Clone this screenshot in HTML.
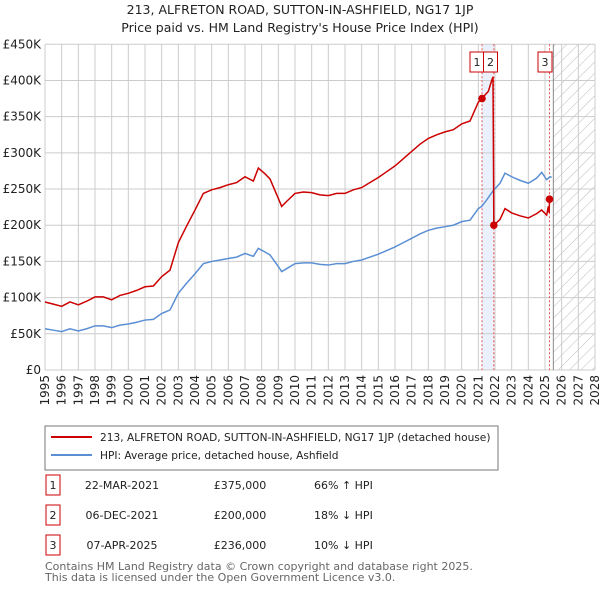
<!DOCTYPE html>
<html><head><meta charset="utf-8"><style>
body{margin:0;background:#fff;font-family:"Liberation Sans","DejaVu Sans",sans-serif;}
#wrap{position:relative;width:600px;height:590px;overflow:hidden;}
</style></head><body>
<div id="wrap">
<svg id="chart" width="600" height="590" xmlns="http://www.w3.org/2000/svg" font-family="DejaVu Sans, Liberation Sans, sans-serif">
<text x="300" y="14" text-anchor="middle" font-size="12.5" fill="#222">213, ALFRETON ROAD, SUTTON-IN-ASHFIELD, NG17 1JP</text>
<text x="300" y="32" text-anchor="middle" font-size="12.5" fill="#222">Price paid vs. HM Land Registry's House Price Index (HPI)</text>
<g id="grid"></g><g id="marks"></g><g id="axes"></g>
<rect x="45" y="426" width="453" height="44" fill="#fff" stroke="#777"/>
<line x1="51" y1="437" x2="92" y2="437" stroke="#cc0000" stroke-width="2"/>
<text x="100" y="441" font-size="10.6" fill="#222">213, ALFRETON ROAD, SUTTON-IN-ASHFIELD, NG17 1JP (detached house)</text>
<line x1="51" y1="455" x2="92" y2="455" stroke="#5b8fd4" stroke-width="2"/>
<text x="100" y="459" font-size="10.6" fill="#222">HPI: Average price, detached house, Ashfield</text>
<g id="table" font-size="11" fill="#222"></g>
<text x="45" y="570" font-size="11" fill="#666">Contains HM Land Registry data © Crown copyright and database right 2025.</text>
<text x="45" y="581" font-size="11" fill="#666">This data is licensed under the Open Government Licence v3.0.</text>
</svg>
</div>
<script>
const yTicks=[0,50,100,150,200,250,300,350,400,450];
const yTickLabels=["£0","£50K","£100K","£150K","£200K","£250K","£300K","£350K","£400K","£450K"];
const xYears=[1995,1996,1997,1998,1999,2000,2001,2002,2003,2004,2005,2006,2007,2008,2009,2010,2011,2012,2013,2014,2015,2016,2017,2018,2019,2020,2021,2022,2023,2024,2025,2026,2027,2028];
const hpiDates=[1995,1995.5,1996,1996.5,1997,1997.5,1998,1998.5,1999,1999.5,2000,2000.5,2001,2001.5,2002,2002.5,2003,2003.5,2004,2004.5,2005,2005.5,2006,2006.5,2007,2007.5,2007.8,2008.2,2008.5,2009,2009.2,2009.5,2010,2010.5,2011,2011.5,2012,2012.5,2013,2013.5,2014,2014.5,2015,2015.5,2016,2016.5,2017,2017.5,2018,2018.5,2019,2019.5,2020,2020.5,2021,2021.2,2021.5,2021.9,2022.3,2022.6,2023,2023.5,2024,2024.5,2024.8,2025.1,2025.3,2025.4];
const hpiValues=[57,55,53,57,54,57,61,61,58.5,62,63.6,66,69,70,78,83,106,120,133,147,150,152,154,156,161,157,168,163,159,143,136,140,147,148,148,146,145,147,147,150,152,156,160,165,170,176,182,188,193,196,198,200,205,207,223,226,235,248,258,272,267,262,258,265,273,263,267,266];
const priceDates=[1995,1995.5,1996,1996.5,1997,1997.5,1998,1998.5,1999,1999.5,2000,2000.5,2001,2001.5,2002,2002.5,2003,2003.5,2004,2004.5,2005,2005.5,2006,2006.5,2007,2007.5,2007.8,2008.2,2008.5,2009,2009.2,2009.5,2010,2010.5,2011,2011.5,2012,2012.5,2013,2013.5,2014,2014.5,2015,2015.5,2016,2016.5,2017,2017.5,2018,2018.5,2019,2019.5,2020,2020.5,2021,2021.22,2021.4,2021.6,2021.8,2021.88,2021.93,2022.3,2022.6,2023,2023.5,2024,2024.5,2024.8,2025.1,2025.2,2025.25,2025.27];
const priceValues=[94,91,88,94,90,95,101,101,97,103,106,110,115,116,129,138,176,199,221,244,249,252,256,259,267,261,279,271,264,237,226,233,244,246,245,242,241,244,244,249,252,259,266,274,282,292,302,312,320,325,329,332,340,344,370,375,380,385,400,405,200,208,223,217,213,210,216,221,214,226,217,236];
const saleDates=[2021.22,2021.93,2025.27];
const salePrices=[375,200,236];
const saleLabels=["1","2","3"];
const tableDates=["22-MAR-2021","06-DEC-2021","07-APR-2025"];
const tablePrices=["£375,000","£200,000","£236,000"];
const tableHpi=["66% ↑ HPI","18% ↓ HPI","10% ↓ HPI"];
const dataEnd=2025.5;

const X0=45,X1=595,Y0=370,Y1=44.3;
const xs=t=>X0+(t-1995)/(2028-1995)*(X1-X0);
const ys=v=>Y0-v/450*(Y0-Y1);
const NS="http://www.w3.org/2000/svg";
function mk(tag,parent,attrs){const e=document.createElementNS(NS,tag);for(const k in attrs)e.setAttribute(k,attrs[k]);document.getElementById(parent).appendChild(e);return e;}

const defs=document.createElementNS(NS,"defs");
defs.innerHTML='<pattern id="hatch" width="8" height="8" patternUnits="userSpaceOnUse" patternTransform="rotate(45)"><line x1="0" y1="0" x2="0" y2="8" stroke="#bbb" stroke-width="1"/></pattern>';
document.getElementById("chart").prepend(defs);

let b=mk("rect","grid",{x:xs(saleDates[0]),y:Y1,width:xs(saleDates[1])-xs(saleDates[0]),height:Y0-Y1,fill:"#eaf1fc"});


let h=mk("rect","grid",{x:xs(dataEnd),y:Y1,width:X1-xs(dataEnd),height:Y0-Y1,fill:"url(#hatch)"});



yTicks.forEach((v,i)=>{
  const l=mk("line","grid",{x1:X0,x2:X1,y1:ys(v),y2:ys(v),stroke:"#ccc","stroke-width":1});
  
  
  const t=mk("text","axes",{x:X0-4,y:ys(v)+4,"text-anchor":"end","font-size":"12",fill:"#222"});
  t.textContent=yTickLabels[i];
  
  
});
xYears.forEach(yr=>{
  const l=mk("line","grid",{x1:xs(yr),x2:xs(yr),y1:Y1,y2:Y0,stroke:"#ccc","stroke-width":1});
  
  
  const t=mk("text","axes",{x:0,y:0,"text-anchor":"end","font-size":"12",fill:"#222",transform:`translate(${xs(yr)+4},375) rotate(-90)`});
  t.textContent=yr;
  
  
});
let ve=mk("line","grid",{x1:xs(dataEnd),x2:xs(dataEnd),y1:Y1,y2:Y0,stroke:"#888","stroke-width":1});



saleDates.forEach((d,i)=>{
  const l=mk("line","marks",{x1:xs(d),x2:xs(d),y1:Y1,y2:Y0,stroke:"#ee5555","stroke-width":1,"stroke-dasharray":"2,2"});
  
  
});

const hp=mk("polyline","marks",{points:hpiDates.map((d,i)=>xs(d)+","+ys(hpiValues[i])).join(" "),fill:"none",stroke:"#5b8fd4","stroke-width":1.5});


const pp=mk("polyline","marks",{points:priceDates.map((d,i)=>xs(d)+","+ys(priceValues[i])).join(" "),fill:"none",stroke:"#cc0000","stroke-width":1.5});



saleDates.forEach((d,i)=>{
  const c=mk("circle","marks",{cx:xs(d),cy:ys(salePrices[i]),r:3.8,fill:"#cc0000"});
  
  
});
const boxX=[470,483.5,538];
saleLabels.forEach((s,i)=>{
  const r=mk("rect","marks",{x:boxX[i],y:52,width:14,height:20,fill:"#fff",stroke:"#cc0000"});
  
  
  const t=mk("text","marks",{x:boxX[i]+7,y:66,"text-anchor":"middle","font-size":"11",fill:"#222"});
  t.textContent=s;
  
  
});
saleLabels.forEach((s,i)=>{
  const y0=475+i*30;
  const r=mk("rect","table",{x:46,y:y0,width:14,height:20,fill:"#fff",stroke:"#cc0000"});
  
  
  const cells=[[53,s,"middle"],[122,tableDates[i],"middle"],[240,tablePrices[i],"middle"],[314,tableHpi[i],"start"]];
  cells.forEach(c=>{
    const t=mk("text","table",{x:c[0],y:y0+14,"text-anchor":c[2]});
    t.textContent=c[1];
    
    
  });
});
</script>
</body></html>
